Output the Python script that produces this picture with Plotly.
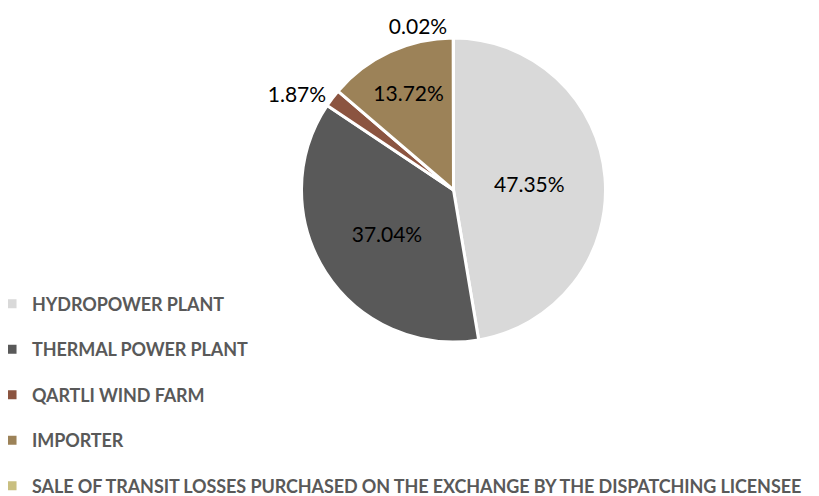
import plotly.graph_objects as go

labels = ["HYDROPOWER PLANT", "THERMAL POWER PLANT", "QARTLI WIND FARM", "IMPORTER",
          "SALE OF TRANSIT LOSSES PURCHASED ON THE EXCHANGE BY THE DISPATCHING LICENSEE"]
values = [47.35, 37.04, 1.87, 13.72, 0.02]
colors = ["#D9D9D9", "#595959", "#8B5440", "#9C8258", "#C9BF80"]
positions = ["inside", "inside", "outside", "inside", "outside"]

fig = go.Figure(go.Pie(
    labels=[f'<span style="font-size:18px;baseline-shift:6px;letter-spacing:-0.1px">{l}</span>' for l in labels],
    values=values,
    sort=False,
    direction="clockwise",
    rotation=0,
    marker=dict(colors=colors, line=dict(color="white", width=3)),
    texttemplate="%{value:.2f}%",
    textposition=positions,
    insidetextorientation="horizontal",
    textfont=dict(family="Lato", size=21, color="black"),
    domain=dict(x=[293.5/819, 597.5/819], y=[(496-334)/496, (496-30)/496]),
    hoverinfo="label+value",
))

fig.update_layout(
    width=819, height=496,
    margin=dict(l=0, r=0, t=0, b=0, autoexpand=False),
    paper_bgcolor="white",
    plot_bgcolor="white",
    showlegend=True,
    legend=dict(
        x=-0.0195, xanchor="left",
        y=(496-268)/496, yanchor="top",
        font=dict(family="Lato", size=32.7, color="#595959", weight="bold"),
        bgcolor="rgba(0,0,0,0)",
        itemclick=False,
    ),
)

fig.write_html("out.html")
